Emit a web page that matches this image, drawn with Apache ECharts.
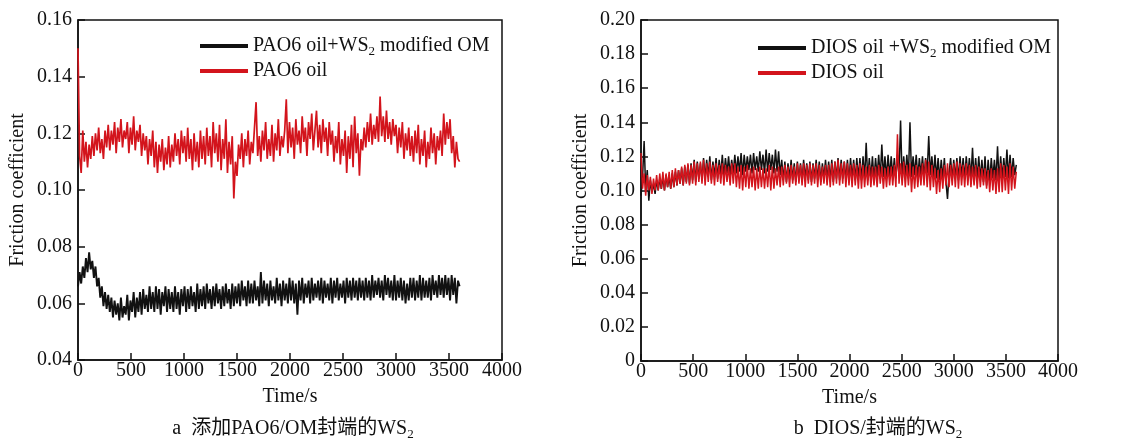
<!DOCTYPE html>
<html>
<head>
<meta charset="utf-8">
<script src="https://cdn.jsdelivr.net/npm/echarts@6/dist/echarts.min.js"></script>
<style>
html,body{margin:0;padding:0;background:#fff;}
#chart{width:1129px;height:441px;}
</style>
</head>
<body>
<div id="chart"></div>
<script>
// sampling step of the recorded traces (s)
const STEP = 15;

// Panel a: PAO6 oil (red)
const paoOil = [
0.150,0.112,0.106,0.121,0.110,0.117,0.108,0.116,0.111,0.119,
0.112,0.120,0.114,0.122,0.113,0.118,0.111,0.121,0.115,0.123,
0.114,0.121,0.116,0.124,0.113,0.122,0.117,0.125,0.115,0.121,
0.118,0.124,0.113,0.122,0.116,0.126,0.114,0.121,0.117,0.123,
0.112,0.120,0.114,0.119,0.109,0.118,0.112,0.121,0.108,0.117,
0.106,0.116,0.110,0.118,0.107,0.115,0.109,0.119,0.108,0.116,
0.110,0.120,0.112,0.118,0.109,0.121,0.113,0.119,0.110,0.122,
0.111,0.118,0.107,0.120,0.110,0.117,0.108,0.121,0.111,0.119,
0.109,0.122,0.112,0.119,0.108,0.124,0.113,0.120,0.110,0.123,
0.107,0.118,0.111,0.125,0.106,0.117,0.109,0.119,0.097,0.110,
0.105,0.116,0.111,0.120,0.108,0.118,0.112,0.121,0.109,0.117,
0.113,0.122,0.131,0.112,0.119,0.110,0.121,0.114,0.124,0.111,
0.118,0.112,0.123,0.110,0.120,0.114,0.125,0.112,0.119,0.115,
0.121,0.132,0.113,0.124,0.115,0.122,0.111,0.125,0.116,0.121,
0.113,0.126,0.117,0.122,0.112,0.124,0.118,0.127,0.114,0.121,
0.128,0.115,0.123,0.113,0.125,0.117,0.122,0.112,0.124,0.116,
0.121,0.110,0.119,0.113,0.124,0.109,0.118,0.112,0.121,0.106,
0.119,0.111,0.123,0.108,0.126,0.113,0.120,0.105,0.118,0.114,
0.122,0.115,0.124,0.117,0.127,0.116,0.123,0.118,0.126,0.117,
0.133,0.119,0.126,0.117,0.128,0.118,0.124,0.116,0.125,0.119,
0.123,0.113,0.122,0.115,0.124,0.111,0.120,0.114,0.122,0.112,
0.119,0.110,0.121,0.113,0.123,0.109,0.118,0.112,0.121,0.108,
0.117,0.111,0.122,0.113,0.120,0.109,0.119,0.114,0.121,0.112,
0.127,0.116,0.124,0.118,0.125,0.113,0.119,0.108,0.117,0.111,
0.110
];

// Panel a: PAO6 oil + WS2 modified OM (black)
const paoWs2 = [
0.066,0.071,0.067,0.073,0.069,0.076,0.071,0.078,0.072,0.075,
0.069,0.073,0.066,0.069,0.062,0.066,0.059,0.064,0.058,0.063,
0.057,0.062,0.055,0.061,0.056,0.060,0.054,0.062,0.055,0.059,
0.056,0.063,0.054,0.061,0.057,0.064,0.055,0.062,0.057,0.064,
0.056,0.065,0.058,0.063,0.057,0.066,0.058,0.064,0.057,0.066,
0.058,0.065,0.056,0.064,0.059,0.066,0.057,0.065,0.058,0.064,
0.057,0.066,0.058,0.064,0.056,0.065,0.059,0.066,0.057,0.065,
0.058,0.066,0.059,0.064,0.057,0.067,0.058,0.065,0.059,0.066,
0.058,0.067,0.060,0.065,0.058,0.066,0.059,0.067,0.060,0.065,
0.058,0.066,0.059,0.067,0.060,0.065,0.058,0.067,0.059,0.066,
0.060,0.067,0.059,0.068,0.061,0.066,0.059,0.068,0.060,0.067,
0.060,0.068,0.061,0.066,0.059,0.071,0.060,0.068,0.061,0.067,
0.059,0.068,0.061,0.066,0.060,0.069,0.061,0.067,0.059,0.068,
0.061,0.067,0.060,0.069,0.061,0.068,0.060,0.067,0.056,0.068,
0.061,0.069,0.060,0.067,0.062,0.068,0.060,0.069,0.061,0.067,
0.062,0.068,0.061,0.069,0.060,0.068,0.062,0.067,0.061,0.069,
0.060,0.068,0.062,0.069,0.061,0.067,0.062,0.068,0.060,0.069,
0.062,0.068,0.061,0.069,0.062,0.068,0.061,0.069,0.062,0.068,
0.061,0.069,0.062,0.068,0.061,0.070,0.062,0.068,0.063,0.069,
0.062,0.068,0.061,0.070,0.063,0.069,0.062,0.068,0.061,0.070,
0.061,0.068,0.062,0.069,0.061,0.068,0.060,0.067,0.061,0.069,
0.062,0.069,0.061,0.068,0.062,0.070,0.061,0.069,0.062,0.068,
0.062,0.069,0.061,0.070,0.063,0.068,0.062,0.070,0.063,0.069,
0.062,0.070,0.063,0.069,0.061,0.070,0.063,0.069,0.060,0.068,
0.066
];

// Panel b: DIOS oil + WS2 modified OM (black)
const diosWs2 = [
0.097,0.108,0.129,0.100,0.112,0.094,0.106,0.099,0.104,0.098,
0.106,0.100,0.107,0.101,0.108,0.100,0.109,0.102,0.108,0.101,
0.110,0.102,0.111,0.103,0.112,0.104,0.113,0.103,0.114,0.105,
0.115,0.104,0.116,0.106,0.118,0.105,0.117,0.107,0.116,0.106,
0.119,0.107,0.118,0.108,0.120,0.106,0.117,0.108,0.119,0.107,
0.118,0.109,0.121,0.108,0.119,0.110,0.120,0.109,0.118,0.110,
0.121,0.110,0.120,0.111,0.122,0.109,0.121,0.111,0.120,0.112,
0.121,0.110,0.122,0.112,0.120,0.111,0.123,0.112,0.121,0.110,
0.124,0.111,0.122,0.112,0.121,0.110,0.124,0.111,0.123,0.109,
0.118,0.106,0.117,0.105,0.116,0.107,0.118,0.106,0.116,0.105,
0.117,0.106,0.116,0.105,0.118,0.107,0.116,0.106,0.117,0.105,
0.116,0.107,0.118,0.106,0.117,0.105,0.116,0.107,0.118,0.106,
0.117,0.106,0.118,0.105,0.117,0.107,0.119,0.106,0.118,0.107,
0.117,0.106,0.118,0.105,0.119,0.107,0.118,0.106,0.119,0.107,
0.119,0.106,0.120,0.107,0.128,0.106,0.119,0.107,0.120,0.106,
0.119,0.108,0.121,0.107,0.127,0.108,0.120,0.107,0.121,0.108,
0.120,0.108,0.119,0.107,0.121,0.109,0.141,0.106,0.120,0.108,
0.121,0.107,0.140,0.108,0.120,0.109,0.121,0.107,0.119,0.109,
0.120,0.108,0.119,0.110,0.132,0.109,0.120,0.108,0.121,0.107,
0.119,0.106,0.118,0.107,0.119,0.105,0.095,0.110,0.119,0.106,
0.118,0.107,0.119,0.106,0.120,0.108,0.119,0.107,0.120,0.108,
0.119,0.107,0.125,0.106,0.119,0.107,0.120,0.106,0.118,0.105,
0.120,0.103,0.118,0.105,0.119,0.107,0.118,0.106,0.126,0.105,
0.120,0.107,0.119,0.108,0.124,0.107,0.121,0.108,0.119,0.109,
0.115
];

// Panel b: DIOS oil (red)
const diosOil = [
0.122,0.101,0.110,0.097,0.109,0.100,0.108,0.098,0.107,0.100,
0.109,0.100,0.110,0.101,0.111,0.100,0.110,0.102,0.111,0.101,
0.112,0.102,0.113,0.103,0.112,0.104,0.114,0.103,0.115,0.104,
0.116,0.103,0.115,0.104,0.117,0.103,0.116,0.105,0.117,0.104,
0.118,0.103,0.116,0.105,0.117,0.104,0.115,0.103,0.116,0.105,
0.115,0.104,0.116,0.103,0.115,0.105,0.114,0.103,0.116,0.104,
0.116,0.102,0.114,0.101,0.115,0.100,0.114,0.102,0.115,0.101,
0.113,0.102,0.114,0.100,0.113,0.101,0.114,0.102,0.113,0.101,
0.113,0.102,0.115,0.100,0.114,0.101,0.113,0.103,0.114,0.102,
0.114,0.103,0.115,0.104,0.114,0.102,0.115,0.104,0.114,0.103,
0.116,0.104,0.115,0.103,0.116,0.102,0.115,0.104,0.116,0.103,
0.115,0.104,0.116,0.102,0.115,0.103,0.114,0.104,0.115,0.103,
0.115,0.102,0.116,0.103,0.117,0.104,0.118,0.103,0.116,0.104,
0.117,0.102,0.116,0.103,0.115,0.102,0.116,0.103,0.115,0.101,
0.116,0.101,0.115,0.102,0.114,0.103,0.115,0.102,0.114,0.103,
0.114,0.102,0.115,0.104,0.114,0.101,0.113,0.102,0.114,0.103,
0.114,0.103,0.115,0.102,0.133,0.104,0.116,0.103,0.117,0.102,
0.115,0.103,0.116,0.099,0.114,0.101,0.115,0.102,0.114,0.103,
0.116,0.103,0.118,0.102,0.117,0.100,0.115,0.102,0.113,0.098,
0.112,0.099,0.113,0.101,0.115,0.103,0.116,0.102,0.115,0.103,
0.116,0.102,0.117,0.101,0.116,0.103,0.115,0.102,0.116,0.103,
0.115,0.102,0.114,0.103,0.115,0.101,0.114,0.102,0.113,0.103,
0.113,0.101,0.112,0.099,0.113,0.100,0.112,0.098,0.113,0.099,
0.116,0.099,0.115,0.100,0.114,0.098,0.116,0.100,0.114,0.101,
0.111
];

const xTicks = [0, 500, 1000, 1500, 2000, 2500, 3000, 3500, 4000];
const yTicksA = [0.04, 0.06, 0.08, 0.10, 0.12, 0.14, 0.16];
const yTicksB = [0, 0.02, 0.04, 0.06, 0.08, 0.10, 0.12, 0.14, 0.16, 0.18, 0.20];

const NAME_A1 = 'PAO6 oil+WS2 modified OM';
const NAME_A2 = 'PAO6 oil';
const NAME_B1 = 'DIOS oil +WS2 modified OM';
const NAME_B2 = 'DIOS oil';

const SERIF = "'Liberation Serif','Times New Roman','Noto Sans CJK SC',serif";
const RED = '#d3141c';
const BLACK = '#111111';

function pairs(arr) { return arr.map((v, i) => [i * STEP, v]); }

const richText = {
  n: { fontFamily: SERIF, fontSize: 20, fontWeight: 'normal', color: '#111', lineHeight: 24 },
  s: { fontFamily: SERIF, fontSize: 13, fontWeight: 'normal', color: '#111', lineHeight: 14, verticalAlign: 'bottom' }
};
function sub(name) {
  const idx = name.indexOf('WS2');
  if (idx < 0) return '{n|' + name + '}';
  return '{n|' + name.slice(0, idx + 2) + '}{s|2}{n|' + name.slice(idx + 3) + '}';
}

function xAxisDef(gi) {
  return {
    gridIndex: gi, type: 'value', min: xTicks[0], max: xTicks[xTicks.length - 1], interval: 500,
    name: 'Time/s', nameLocation: 'middle', nameGap: 27,
    nameTextStyle: { fontFamily: SERIF, fontSize: 20, color: '#111' },
    axisLine: { show: true, lineStyle: { color: '#111', width: 1.5 } },
    axisTick: { show: true, inside: true, length: 7, lineStyle: { color: '#111', width: 1.5 } },
    axisLabel: { fontFamily: SERIF, fontSize: 20, color: '#111', margin: 1, formatter: v => String(v), showMinLabel: true, showMaxLabel: true },
    splitLine: { show: false }
  };
}
function yAxisDef(gi, ticks, fmt) {
  return {
    gridIndex: gi, type: 'value', min: ticks[0], max: ticks[ticks.length - 1], interval: 0.02,
    name: 'Friction coefficient', nameLocation: 'middle', nameGap: 50, nameRotate: 90,
    nameTextStyle: { fontFamily: SERIF, fontSize: 20, color: '#111' },
    axisLine: { show: true, lineStyle: { color: '#111', width: 1.5 } },
    axisTick: { show: true, inside: true, length: 7, lineStyle: { color: '#111', width: 1.5 } },
    axisLabel: { fontFamily: SERIF, fontSize: 20, color: '#111', margin: 6, formatter: fmt, showMinLabel: true, showMaxLabel: true },
    splitLine: { show: false }
  };
}

const chart = echarts.init(document.getElementById('chart'), null, { renderer: 'canvas' });
chart.setOption({
  backgroundColor: '#fff',
  animation: false,
  grid: [
    { left: 78, top: 20, width: 424, height: 340, show: true, borderColor: '#111', borderWidth: 1.5, backgroundColor: 'transparent' },
    { left: 641, top: 20, width: 417, height: 341, show: true, borderColor: '#111', borderWidth: 1.5, backgroundColor: 'transparent' }
  ],
  xAxis: [xAxisDef(0), xAxisDef(1)],
  yAxis: [
    yAxisDef(0, yTicksA, v => v.toFixed(2)),
    yAxisDef(1, yTicksB, v => (v === 0 ? '0' : v.toFixed(2)))
  ],
  legend: [
    {
      orient: 'vertical', left: 195, top: 31, itemWidth: 48, itemHeight: 4, itemGap: 3,
      selectedMode: false, icon: 'rect',
      data: [
        { name: NAME_A1, icon: 'rect', itemStyle: { color: BLACK } },
        { name: NAME_A2, icon: 'rect', itemStyle: { color: RED } }
      ],
      formatter: sub, textStyle: { rich: richText }
    },
    {
      orient: 'vertical', left: 753, top: 33, itemWidth: 48, itemHeight: 4, itemGap: 3,
      selectedMode: false, icon: 'rect',
      data: [
        { name: NAME_B1, icon: 'rect', itemStyle: { color: BLACK } },
        { name: NAME_B2, icon: 'rect', itemStyle: { color: RED } }
      ],
      formatter: sub, textStyle: { rich: richText }
    }
  ],
  title: [
    { text: '{n|a  添加PAO6/OM封端的WS}{s|2}', left: 288, top: 412, textAlign: 'center',
      textStyle: { fontWeight: 'normal', rich: richText } },
    { text: '{n|b  DIOS/封端的WS}{s|2}', left: 873, top: 412, textAlign: 'center',
      textStyle: { fontWeight: 'normal', rich: richText } }
  ],
  series: [
    { name: NAME_A1, type: 'line', xAxisIndex: 0, yAxisIndex: 0, data: pairs(paoWs2), showSymbol: false, symbol: 'none',
      lineStyle: { color: BLACK, width: 1.9 }, itemStyle: { color: BLACK } },
    { name: NAME_A2, type: 'line', xAxisIndex: 0, yAxisIndex: 0, data: pairs(paoOil), showSymbol: false, symbol: 'none',
      lineStyle: { color: RED, width: 1.7 }, itemStyle: { color: RED } },
    { name: NAME_B1, type: 'line', xAxisIndex: 1, yAxisIndex: 1, data: pairs(diosWs2), showSymbol: false, symbol: 'none',
      lineStyle: { color: BLACK, width: 1.5 }, itemStyle: { color: BLACK } },
    { name: NAME_B2, type: 'line', xAxisIndex: 1, yAxisIndex: 1, data: pairs(diosOil), showSymbol: false, symbol: 'none',
      lineStyle: { color: RED, width: 1.5 }, itemStyle: { color: RED } }
  ]
});
</script>
</body>
</html>
